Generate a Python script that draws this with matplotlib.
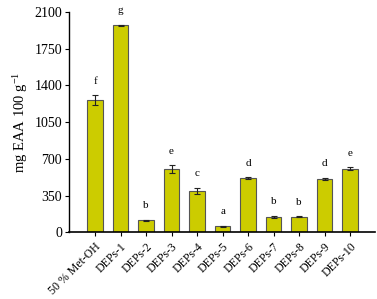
import matplotlib
matplotlib.use("Agg")
import matplotlib.pyplot as plt
import numpy as np

categories = ["50 % Met-OH", "DEPs-1", "DEPs-2", "DEPs-3", "DEPs-4", "DEPs-5",
              "DEPs-6", "DEPs-7", "DEPs-8", "DEPs-9", "DEPs-10"]
values = [1262, 1972, 114, 604, 397, 57, 515, 146, 149, 511, 607]
errors = [45, 6, 8, 35, 28, 4, 10, 12, 5, 10, 12]
letters = ["f", "g", "b", "e", "c", "a", "d", "b", "b", "d", "e"]
yticks = [0, 350, 700, 1050, 1400, 1750, 2100]

plt.rcParams['font.family'] = ['Liberation Serif', 'DejaVu Serif']
plt.rcParams['mathtext.fontset'] = 'custom'
plt.rcParams['mathtext.rm'] = 'Liberation Serif'
plt.rcParams['mathtext.it'] = 'Liberation Serif:italic'
plt.rcParams['mathtext.default'] = 'rm'

fig = plt.figure(figsize=(3.77, 2.99), dpi=100)
ax = fig.add_axes([0.183, 0.223, 0.812, 0.737])

x = np.arange(len(categories))
ax.bar(x, values, width=0.6, color="#CCCC00", edgecolor="#555555", linewidth=0.8,
       yerr=errors, error_kw=dict(ecolor="#222222", elinewidth=0.8, capsize=2.5, capthick=0.8))

for xi, v, e, l in zip(x, values, errors, letters):
    ax.text(xi, v + e + 90, l, ha="center", va="bottom", fontsize=8)

ax.set_ylim(0, 2100)
ax.set_xlim(-1.02, 10.98)
ax.set_yticks(yticks)
ax.set_yticklabels([str(t) for t in yticks], fontsize=10)
ax.set_xticks(x)
ax.set_xticklabels(categories, rotation=45, ha="right", rotation_mode="anchor", fontsize=8.5)
ax.tick_params(axis="both", length=3, width=0.8, direction="out", pad=2)
ax.tick_params(axis="x", length=3, pad=3)
ax.spines["top"].set_visible(False)
ax.spines["right"].set_visible(False)
ax.spines["left"].set_linewidth(1.0)
ax.spines["bottom"].set_linewidth(1.2)
ax.set_ylabel("mg EAA 100 g$^{-1}$", fontsize=10.5, labelpad=3)

fig.savefig("out.png", dpi=100)
